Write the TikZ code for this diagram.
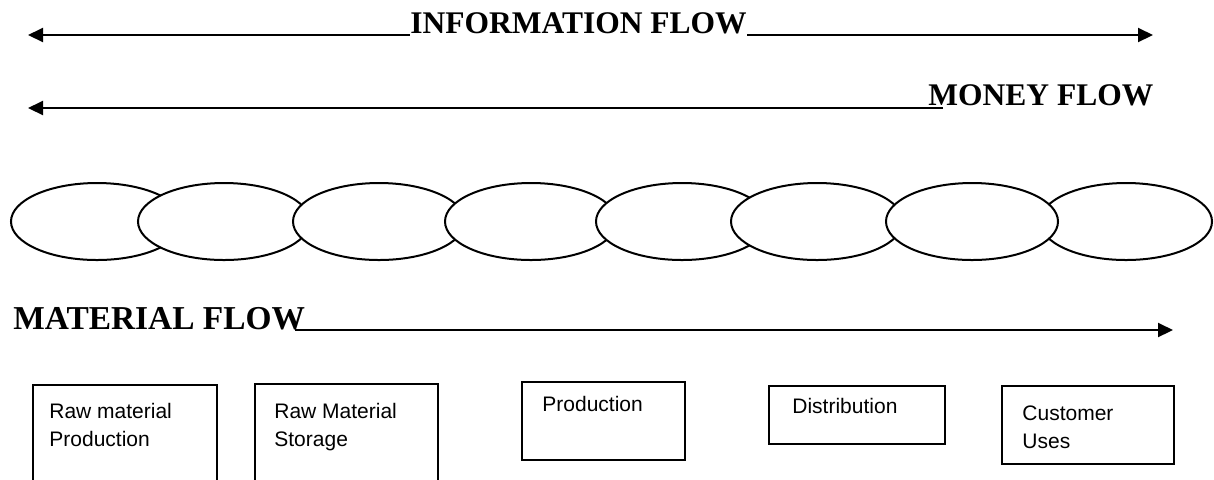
\documentclass[tikz,border=0pt]{standalone}
\usepackage{fontspec}
\setmainfont{Liberation Serif}
\setsansfont{Liberation Sans}
\usetikzlibrary{shapes.geometric,arrows.meta,calc}

\begin{document}
\begin{tikzpicture}[x=0.5pt,y=-0.5pt,
  flowlabel/.style={font=\bfseries\fontsize{15.75}{18}\selectfont, inner sep=0pt, anchor=base west},
  flowline/.style={line width=1pt, -{Triangle[length=7.5pt,width=7pt]}},
  oval/.style={ellipse, draw, fill=white, line width=1pt, minimum width=86pt, minimum height=38.5pt, inner sep=0pt},
  stage/.style={draw, line width=1pt, rectangle, inner sep=0pt, anchor=north west},
  stagetext/.style={font=\sffamily\fontsize{10.5}{14}\selectfont, align=left, inner sep=0pt, anchor=base west}]

\useasboundingbox (0,0) rectangle (1214,479);
\clip (0,0) rectangle (1214,479);

% information flow, both directions
\node[flowlabel] (info) at (410,33) {INFORMATION FLOW};
\coordinate (infoL) at (28,35);
\coordinate (infoR) at (1153,35);
\draw[flowline] (info.base west |- infoL) -- (infoL);
\draw[flowline] (info.base east |- infoR) -- (infoR);

% money flow, back to the start of the chain
\node[flowlabel] (money) at (928,105) {MONEY FLOW};
\coordinate (moneyL) at (28,108);
\draw[flowline] ($(money.base west |- moneyL)+(15,0)$) -- (moneyL);

% chain of linked stages
\node[oval] (e8) at (1126,221.5) {};
\node[oval] (e1) at (97,221.5) {};
\node[oval] (e2) at (224,221.5) {};
\node[oval] (e3) at (379,221.5) {};
\node[oval] (e4) at (531,221.5) {};
\node[oval] (e5) at (682,221.5) {};
\node[oval] (e6) at (817,221.5) {};
\node[oval] (e7) at (972,221.5) {};

% material flow, forward
\node[flowlabel, font=\bfseries\fontsize{16.7}{19}\selectfont] (mat) at (13,329) {MATERIAL FLOW};
\coordinate (matR) at (1173,330);
\draw[flowline] ($(mat.base east |- matR)+(-10,0)$) -- (matR);

% stage boxes
\node[stage, minimum width=92pt, minimum height=70pt] (b1) at (32,384) {};
\node[stage, minimum width=91.5pt, minimum height=70pt] (b2) at (254,383) {};
\node[stage, minimum width=81.5pt, minimum height=39pt] (b3) at (521,381) {};
\node[stage, minimum width=88pt, minimum height=29pt] (b4) at (768,385) {};
\node[stage, minimum width=86pt, minimum height=39pt] (b5) at (1001,385) {};

% labels: a two-line label sits on the baseline of its last line
\node[stagetext] (t1) at (49,446) {Raw material\\Production};
\node[stagetext] (t2) at (274,446) {Raw Material\\Storage};
\node[stagetext] (t3) at (542,411) {Production};
\node[stagetext] (t4) at (792,413) {Distribution};
\node[stagetext] (t5) at (1022,448) {Customer\\Uses};
\end{tikzpicture}
\end{document}
